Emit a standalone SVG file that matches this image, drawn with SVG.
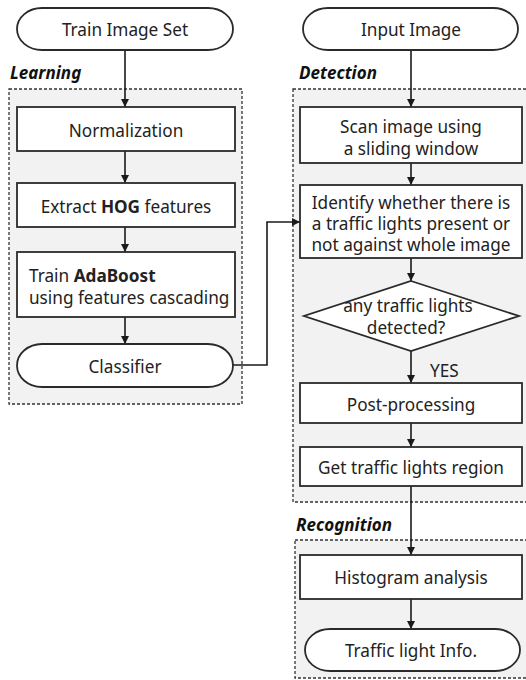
<svg xmlns="http://www.w3.org/2000/svg" width="526" height="680" viewBox="0 0 526 680">
<defs>
<style>
.grp{fill:#f2f2f2;stroke:#333;stroke-width:1.3;stroke-dasharray:3,2}
.box{fill:#fff;stroke:#2a2a2a;stroke-width:1.8}
.t{font-family:"Noto Sans","Open Sans",sans-serif;font-size:17.2px;fill:#222;text-anchor:middle}
.tl{font-family:"Noto Sans","Open Sans",sans-serif;font-size:17.2px;fill:#222}
.lbl{font-family:"Noto Sans","Open Sans",sans-serif;font-size:17px;font-weight:bold;font-style:italic;fill:#111}
.c{fill:none;stroke:#1a1a1a;stroke-width:1.6}
</style>
<marker id="ah" viewBox="0 0 10 10" refX="10" refY="5" markerWidth="8" markerHeight="8" markerUnits="userSpaceOnUse" orient="auto">
<path d="M0,0 L10,5 L0,10 z" fill="#1a1a1a"/>
</marker>
</defs>
<rect width="526" height="680" fill="#fff"/>
<g id="group-learning">
<rect class="grp" x="9" y="89" width="233" height="315"/>
<text class="lbl" x="10" y="79">Learning</text>
</g>
<g id="group-detection">
<rect class="grp" x="293" y="89" width="236" height="413"/>
<text class="lbl" x="299" y="79">Detection</text>
</g>
<g id="group-recognition">
<rect class="grp" x="295" y="540" width="234" height="138"/>
<text class="lbl" x="296" y="531">Recognition</text>
</g>
<g id="connectors">
<line class="c" x1="125" y1="50" x2="125" y2="107" marker-end="url(#ah)"/>
<line class="c" x1="125" y1="151" x2="125" y2="183" marker-end="url(#ah)"/>
<line class="c" x1="125" y1="227" x2="125" y2="252" marker-end="url(#ah)"/>
<line class="c" x1="125" y1="317" x2="125" y2="344" marker-end="url(#ah)"/>
<polyline class="c" points="233,365 267,365 267,222 300,222" marker-end="url(#ah)"/>
<line class="c" x1="411" y1="50" x2="411" y2="107" marker-end="url(#ah)"/>
<line class="c" x1="411" y1="163" x2="411" y2="185" marker-end="url(#ah)"/>
<line class="c" x1="411" y1="258" x2="411" y2="281" marker-end="url(#ah)"/>
<line class="c" x1="411" y1="351" x2="411" y2="383" marker-end="url(#ah)"/>
<line class="c" x1="411" y1="423" x2="411" y2="447" marker-end="url(#ah)"/>
<line class="c" x1="411" y1="486" x2="411" y2="555" marker-end="url(#ah)"/>
<line class="c" x1="411" y1="599" x2="411" y2="629" marker-end="url(#ah)"/>
<text class="tl" x="430" y="377">YES</text>
</g>
<g id="train-image-set">
<rect class="box" x="17" y="8" width="216" height="42" rx="25" ry="21"/>
<text class="t" x="125" y="36">Train Image Set</text>
</g>
<g id="normalization">
<rect class="box" x="17" y="107" width="218" height="44"/>
<text class="t" x="126" y="137">Normalization</text>
</g>
<g id="extract-hog">
<rect class="box" x="17" y="183" width="218" height="44"/>
<text class="t" x="126" y="213">Extract <tspan font-weight="bold">HOG</tspan> features</text>
</g>
<g id="train-adaboost">
<rect class="box" x="17" y="252" width="218" height="65"/>
<text class="tl" x="29" y="282">Train <tspan font-weight="bold">AdaBoost</tspan></text>
<text class="tl" x="29" y="304">using features cascading</text>
</g>
<g id="classifier">
<rect class="box" x="17" y="344" width="216" height="43" rx="25" ry="21.5"/>
<text class="t" x="125" y="373">Classifier</text>
</g>
<g id="input-image">
<rect class="box" x="303" y="8" width="215" height="42" rx="25" ry="21"/>
<text class="t" x="411" y="36">Input Image</text>
</g>
<g id="scan-image">
<rect class="box" x="300" y="107" width="222" height="56"/>
<text class="t" x="411" y="133">Scan image using</text>
<text class="t" x="411" y="155">a sliding window</text>
</g>
<g id="identify">
<rect class="box" x="300" y="185" width="222" height="73"/>
<text class="t" x="411" y="209">Identify whether there is</text>
<text class="t" x="411" y="230">a traffic lights present or</text>
<text class="t" x="411" y="251">not against whole image</text>
</g>
<g id="decision">
<polygon class="box" points="411,281 519,316 411,351 304,316"/>
<text class="t" x="408" y="312">any traffic lights</text>
<text class="t" x="406" y="334">detected?</text>
</g>
<g id="post-processing">
<rect class="box" x="300" y="383" width="222" height="40"/>
<text class="t" x="411" y="411">Post-processing</text>
</g>
<g id="get-region">
<rect class="box" x="300" y="447" width="222" height="39"/>
<text class="t" x="411" y="474">Get traffic lights region</text>
</g>
<g id="histogram">
<rect class="box" x="300" y="555" width="222" height="44"/>
<text class="t" x="411" y="584">Histogram analysis</text>
</g>
<g id="traffic-light-info">
<rect class="box" x="305" y="629" width="215" height="42" rx="25" ry="21"/>
<text class="t" x="411" y="657">Traffic light Info.</text>
</g>
</svg>
